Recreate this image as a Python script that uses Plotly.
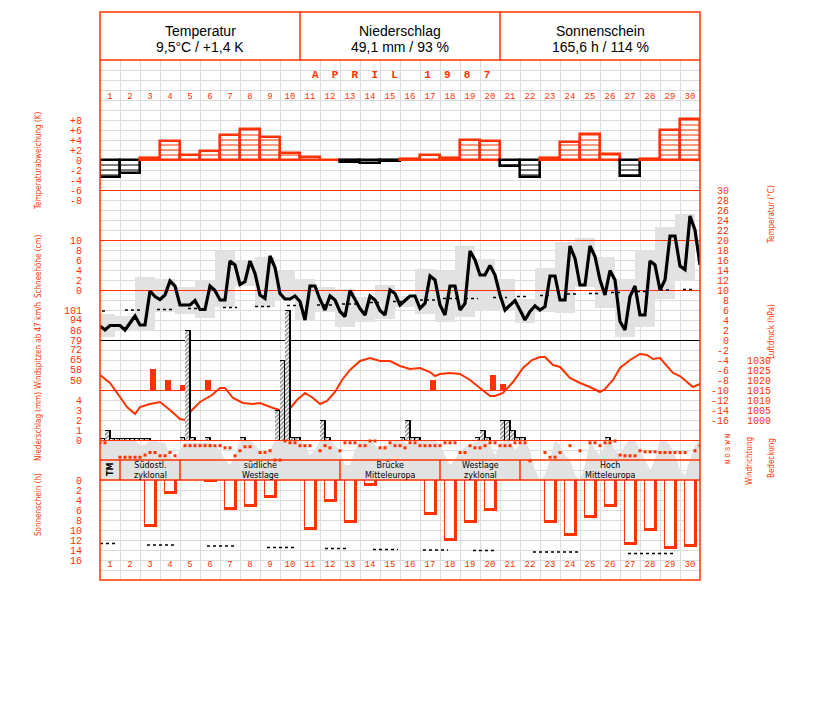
import plotly.graph_objects as go

# ---------------- data ----------------
days = list(range(1, 31))
day_labels = [str(d) for d in days]

summary_titles = ["Temperatur", "Niederschlag", "Sonnenschein"]
summary_values = ["9,5°C / +1,4 K", "49,1 mm / 93 %", "165,6 h / 114 %"]
month_title = "APRIL 1987"

# daily temperature deviation (K)
temp_dev_k = [-3.3, -2.5, 0.5, 3.8, 1.0, 1.9, 5.0, 6.2, 4.6, 1.5, 0.6, 0.1, -0.3, -0.5, -0.1,
              0.2, 1.1, 0.5, 4.1, 3.8, -1.2, -3.3, 0.5, 3.6, 5.3, 1.3, -3.2, 0.3, 6.1, 8.2]
temp_dev_ticks = [8, 6, 4, 2, 0, -2, -4, -6, -8]
temp_dev_ticktext = ["+8", "+6", "+4", "+2", "0", "-2", "-4", "-6", "-8"]

# 6-hourly air temperature (°C), starting 1 April 00 h
temp_6h_c = [2.8, 2.0, 2.9, 2.9, 2.9, 2.0, 3.4, 4.8, 3.0, 3.0,
             9.8, 8.7, 8.1, 9.0, 11.8, 10.8, 7.0, 7.0, 7.0, 7.9,
             6.1, 6.1, 10.8, 9.9, 8.0, 8.0, 15.8, 15.0, 11.1, 11.7,
             15.8, 13.3, 9.0, 8.3, 16.8, 14.5, 9.3, 8.2, 8.2, 8.8,
             7.7, 4.0, 10.8, 10.8, 8.1, 6.0, 8.8, 8.0, 5.7, 4.7,
             9.9, 8.1,
             6.3, 5.0, 8.8, 8.0, 5.9, 5.0, 10.0, 9.3, 7.0, 7.9,
             8.8, 8.8, 6.3, 7.3, 12.8, 12.0, 7.0, 5.0, 10.8, 10.8,
             6.0, 7.3, 17.8, 16.0, 13.0, 13.0, 14.9, 13.0, 9.0, 6.0,
             7.0, 7.9, 6.0, 4.0, 5.7, 6.8, 6.0, 6.7, 12.8, 12.8,
             8.0, 8.0, 18.8, 16.3, 11.0, 11.0, 18.8, 16.7, 12.0, 9.0,
             13.9, 12.0, 3.7, 2.0, 8.7, 10.8, 5.0, 5.0, 15.8, 15.0,
             10.0, 12.0, 20.8, 20.8, 14.8, 14.1, 24.8, 22.0, 15.0]
# daily maximum / minimum temperature (°C)
temp_max_c = [5.3, 5.0, 12.8, 12.3, 10.8, 12.2, 18.0, 16.2, 16.7, 14.0, 12.3, 10.7, 10.3, 8.7, 11.2,
              9.0, 14.3, 14.0, 19.0, 16.3, 12.3, 8.3, 14.5, 19.7, 20.5, 16.8, 12.3, 18.1, 22.7, 25.3]
temp_min_c = [0.8, 2.0, 2.0, 5.7, 5.3, 4.5, 6.7, 11.0, 6.8, 8.0, 4.0, 5.7, 2.7, 3.7, 4.3,
              6.7, 5.3, 3.7, 4.8, 6.0, 6.0, 3.5, 5.7, 5.5, 10.7, 6.5, 0.7, 2.7, 8.3, 12.0]
# long-term mean temperature (dotted segments)
temp_norm_from = [0.6, 1.75, 3.35, 4.9, 6.65, 8.25, 9.85, 11.35, 12.6, 14.0, 15.15, 16.5, 17.65,
                  18.75, 20.15, 21.35, 22.5, 23.85, 24.95, 26.05, 27.35, 28.5, 29.65]
temp_norm_to = [0.9, 2.5, 4.1, 5.35, 7.35, 9.0, 10.5, 12.1, 13.35, 14.5, 15.75, 17.35, 18.35,
                19.4, 20.85, 21.9, 23.1, 24.35, 25.5, 26.6, 27.85, 29.0, 30.2]
temp_norm_c = [5.8, 6.0, 6.1, 6.3, 6.5, 6.7, 6.9, 7.0, 7.2, 7.5, 7.7, 8.0, 8.3,
               8.3, 8.5, 8.7, 8.9, 9.2, 9.3, 9.5, 9.7, 10.0, 10.1]
temp_ticks = list(range(-16, 31, 2))

snow_ticks = [0, 2, 4, 6, 8, 10]

# wind gusts above 47 km/h
gust_day = [3.15, 3.9, 4.65, 5.9, 17.15, 20.15, 20.65]
gust_kmh = [58, 50, 46, 50, 50, 54, 47]
gust_ticks = [50, 58, 65, 72, 79, 86, 94, 101]

# air pressure (hPa)
pressure_day = [0.5, 1.0, 1.5, 1.85, 2.25, 2.5, 3.0, 3.5, 4.0, 4.5, 4.75, 5.1, 5.5, 5.75, 6.1,
                6.5, 6.75, 7.15, 7.65, 8.15, 8.5, 9.15, 9.5, 9.85, 10.35, 10.75, 11.15, 11.5,
                11.85, 12.25, 12.6, 13.0, 13.5, 14.0, 14.5, 15.0, 15.5, 16.0, 16.5, 17.0, 17.25,
                17.5, 18.0, 18.5, 19.0, 19.5, 20.0, 20.25, 20.65, 21.15, 21.65, 22.1, 22.5,
                22.75, 23.15, 23.5, 24.0, 24.5, 25.0, 25.5, 25.75, 26.15, 26.5, 27.0, 27.5,
                27.85, 28.15, 28.5, 29.15, 29.5, 30.15, 30.5]
pressure_hpa = [1022.5, 1018.5, 1011.5, 1006.5, 1003, 1006.5, 1008, 1009, 1005, 1000.5, 1000,
                1005, 1009, 1010.5, 1012.5, 1016, 1016, 1011, 1008.5, 1008, 1008.5, 1006, 1005,
                1004, 1010, 1013.5, 1011, 1008, 1009.5, 1014, 1020, 1025, 1029.5, 1031, 1029.5,
                1029.5, 1027, 1025.5, 1026, 1024, 1022, 1023, 1023.5, 1023, 1020, 1016, 1012,
                1012, 1013.5, 1019, 1026, 1030, 1031.5, 1031.5, 1027.5, 1026.5, 1021, 1018.5,
                1016.5, 1014, 1015.5, 1020, 1026, 1030, 1033, 1032.5, 1030.5, 1031, 1023.5,
                1022, 1016.5, 1018]
pressure_ticks = [1000, 1005, 1010, 1015, 1020, 1025, 1030]

# precipitation per quarter of a day (mm)
precip_day = [1, 1, 1, 1, 2, 2, 2, 2, 3, 3, 5, 5, 5, 6, 8, 9, 10, 10, 10, 10, 12, 12,
              16, 16, 16, 16, 19, 20, 20, 21, 21, 21, 21, 22, 26]
precip_quarter = [1, 2, 3, 4, 1, 2, 3, 4, 1, 2, 1, 2, 3, 2, 1, 4, 1, 2, 3, 4, 1, 2,
                  1, 2, 3, 4, 4, 1, 2, 1, 2, 3, 4, 1, 2]
precip_mm = [0.2, 1.0, 0.2, 0.2, 0.2, 0.2, 0.2, 0.2, 0.2, 0.2, 0.3, 11.0, 0.3, 0.3, 0.3, 3.0,
             8.0, 13.0, 0.3, 0.3, 2.0, 0.3, 0.3, 2.0, 0.3, 0.3, 0.3, 1.0, 0.3, 2.0, 2.0, 1.0,
             0.3, 0.3, 0.3]
precip_ticks = [0, 1, 2, 3, 4]

# 6-hourly wind direction (degrees) and cloud cover (octas)
wind_dir_deg = [280, 280, None, None, 80, 80, 80, 80, 80, 110,
                145, 145, 100, 100, 145, 100, None, 240, 240, 240,
                240, 240, 240, 240, 240, 210, 210, 100, 170, 225,
                225, None, 145, 145, 170, 40, 40, 305, 280, 280,
                240, 240, 240, None, 170, 240, 210, None, 170, 280,
                280, 280, 240, 240, 305, 305, 210, 210, 280, 240,
                240, 210, 280, 280, 240, 240, 240, 240, 240, 280,
                280, 280, 145, 145, 240, 210, 210, 240, 280, 280,
                240, 240, 240, 280, 280, 280, 30, None, None, 145,
                80, 80, 145, None, 240, None, 170, None, 280, 280,
                240, 280, 280, 305, 110, 100, 100, 100, 170, 155,
                155, 155, 145, 145, 145, 145, 145, 145, None, 170,
                240]
wind_ticks = [0, 90, 180, 270, 360]
wind_ticktext = ["N", "O", "S", "W", "N"]
cloud_octas = [8, 8, 8, 8, 8, 8, 8, 8, 7, 7, 8, 8, 7.5, 7.5, 5, 4, 6, 7.5, 7.5, 7.5,
               7.5, 7.5, 7.5, 7, 6, 4, 3, 5, 8, 8, 8, 7, 6, 5, 6, 8, 8, 8, 8, 8,
               8, 7, 5, 6, 8, 8, 8, 7, 6, 3, 3, 6, 8, 8, 8, 7, 6, 7, 7, 8,
               8, 7.5, 7, 7.5, 8, 8, 8, 8, 7, 5, 3, 4, 6, 6.5, 7, 7.5, 8, 8, 7, 5,
               7, 8, 8, 6, 7, 8, 6, 2, 0, 1, 4, 8, 7, 5, 4, 1, 0, 3, 8, 6,
               5, 7, 8, 6, 5, 7, 8, 8, 6, 4, 2, 4, 8, 8, 7, 5, 2, 1, 4, 7, 8]

# weather types (Großwetterlagen)
wx_start = [1, 2, 5, 13, 18, 22]
wx_end = [1, 4, 12, 17, 21, 30]
wx_line1 = ["TM", "Südostl.", "südliche", "Brücke", "Westlage", "Hoch"]
wx_line2 = ["", "zyklonal", "Westlage", "Mitteleuropa", "zyklonal", "Mitteleuropa"]

# sunshine (h) and astronomically possible maximum (dotted)
sun_h = [0, 0, 9.3, 2.7, 0, 0.3, 5.9, 5.3, 3.5, 0, 9.9, 4.3, 8.5, 1.2, 0,
         0, 7.0, 12.1, 8.5, 6.1, 0, 0, 8.5, 11.1, 7.5, 5.3, 13.0, 10.1, 13.7, 13.3]
sun_max_from = [0.5, 2.85, 5.85, 8.85, 11.75, 14.15, 16.65, 19.15, 22.15, 26.9]
sun_max_to = [1.25, 4.35, 7.35, 10.35, 12.9, 15.4, 17.9, 20.3, 24.5, 29.3]
sun_max_h = [12.7, 13.0, 13.2, 13.5, 13.7, 13.9, 14.0, 14.1, 14.4, 14.7]
sun_ticks = [0, 2, 4, 6, 8, 10, 12, 14, 16]

# ---------------- styling / layout helpers ----------------
OR = "#ff3300"
GRID = "#dcdcdc"
BOX = "#e2e2e2"
CLOUD = "#e2e2e2"
MONO = "Liberation Mono, DejaVu Sans Mono, monospace"
SANS = "Liberation Sans, Arial, sans-serif"
COND = "DejaVu Sans Condensed, DejaVu Sans, sans-serif"
NB = "\u00a0"

W, H, OFF = 811, 686, 8          # figure size; page has an 8 px body margin
PL, PR, PT, PB = 100, 700, 12, 580   # plot frame in page pixels


def fx(x):
    return (x - PL) / (PR - PL)


def fy(y):
    return (PB - y) / (PB - PT)


def dom(top, bottom):
    return [max(0.0, fy(bottom)), min(1.0, fy(top))]


tickfont = dict(family=MONO, size=10, color=OR)


def yax(top, bottom, rng, **kw):
    d = dict(domain=dom(top, bottom), range=rng, anchor="x2", showgrid=False,
             zeroline=False, showline=False, ticks="", showticklabels=False,
             fixedrange=True, automargin=False)
    d.update(kw)
    return d


def labelled(vals, text, side, standoff, font=None, **kw):
    d = dict(showticklabels=True, tickmode="array", tickvals=vals, ticktext=text,
             side=side, ticklabelstandoff=standoff, tickfont=font or tickfont)
    d.update(kw)
    return d


fig = go.Figure()

# --- base grid subplot: day numbers
for yrow in (97, 565):
    fig.add_trace(go.Scatter(x=days, y=[yrow] * 30, text=day_labels, mode="text",
                             textfont=dict(family=MONO, size=9, color=OR),
                             xaxis="x", yaxis="y", hoverinfo="skip"))

q6 = [0.5 + i / 4 for i in range(121)]

# --- cloud cover (y2)
fig.add_trace(go.Scatter(x=q6, y=cloud_octas, mode="lines", fill="tozeroy",
                         line=dict(width=0, color=CLOUD), fillcolor=CLOUD,
                         xaxis="x2", yaxis="y2", hoverinfo="skip"))

# --- temperature deviation (y3)
pos_hx, pos_hy, neg_hx, neg_hy = [], [], [], []
for d, v in zip(days, temp_dev_k):
    n = int(-(-abs(v) // 1)) - 1
    for k in range(1, n + 1):
        if v > 0:
            pos_hx += [d - 0.5, d + 0.5, None]
            pos_hy += [k, k, None]
        else:
            neg_hx += [d - 0.5, d + 0.5, None]
            neg_hy += [-k, -k, None]
fig.add_trace(go.Scatter(x=pos_hx, y=pos_hy, mode="lines", line=dict(color=OR, width=1),
                         xaxis="x2", yaxis="y3", hoverinfo="skip"))
fig.add_trace(go.Scatter(x=neg_hx, y=neg_hy, mode="lines", line=dict(color="black", width=1),
                         xaxis="x2", yaxis="y3", hoverinfo="skip"))
fig.add_trace(go.Bar(x=days, y=temp_dev_k, width=1,
                     marker=dict(color="rgba(0,0,0,0)",
                                 line=dict(color=[OR if v > 0 else "black" for v in temp_dev_k],
                                           width=2.6)),
                     xaxis="x2", yaxis="y3", hoverinfo="skip"))

# --- daily max/min boxes (y4)
fig.add_trace(go.Bar(x=days, base=temp_min_c,
                     y=[a - b for a, b in zip(temp_max_c, temp_min_c)],
                     offset=-0.75, width=1, marker=dict(color=BOX, line=dict(width=0)),
                     xaxis="x2", yaxis="y4", hoverinfo="skip"))

# --- y5 only carries the 10 °C lines (empty trace keeps the subplot alive)
fig.add_trace(go.Scatter(x=[], y=[], xaxis="x2", yaxis="y5", hoverinfo="skip"))

# --- temperature curve + long-term mean (y6)
nx, ny = [], []
for a, b, v in zip(temp_norm_from, temp_norm_to, temp_norm_c):
    nx += [a, b, None]
    ny += [v, v, None]
fig.add_trace(go.Scatter(x=nx, y=ny, mode="lines", line=dict(color="black", width=1.3, dash="dot"),
                         xaxis="x2", yaxis="y6", hoverinfo="skip"))
fig.add_trace(go.Scatter(x=q6, y=temp_6h_c, mode="lines", line=dict(color="black", width=3.2),
                         xaxis="x2", yaxis="y6", hoverinfo="skip"))

# --- snow depth axis (no snow this month)
fig.add_trace(go.Scatter(x=[], y=[], xaxis="x2", yaxis="y7", hoverinfo="skip"))

# --- gusts (y8)
fig.add_trace(go.Bar(x=gust_day, y=gust_kmh, width=0.3, marker=dict(color=OR, line=dict(width=0)),
                     xaxis="x2", yaxis="y8", hoverinfo="skip"))

# --- pressure (y9)
fig.add_trace(go.Scatter(x=pressure_day, y=pressure_hpa, mode="lines",
                         line=dict(color=OR, width=2),
                         xaxis="x2", yaxis="y9", hoverinfo="skip"))

# --- precipitation (y10)
qstart = [d - 0.5 + (q - 1) / 4 for d, q in zip(precip_day, precip_quarter)]
fig.add_trace(go.Bar(x=qstart, y=precip_mm, offset=0, width=0.3,
                     marker=dict(color="black", line=dict(width=0)),
                     xaxis="x2", yaxis="y10", hoverinfo="skip"))
fig.add_trace(go.Bar(x=qstart, y=[max(v - 0.12, 0) for v in precip_mm], offset=0, width=0.2,
                     marker=dict(color="white", line=dict(width=0),
                                 pattern=dict(shape="/", fgcolor="black", bgcolor="white",
                                              size=3, solidity=0.45)),
                     xaxis="x2", yaxis="y10", hoverinfo="skip"))

# --- wind direction (y11)
fig.add_trace(go.Scatter(x=q6, y=wind_dir_deg, mode="markers",
                         marker=dict(symbol="square", size=3, color=OR, line=dict(width=0)),
                         xaxis="x2", yaxis="y11", hoverinfo="skip"))

# --- sunshine (y12)
fig.add_trace(go.Bar(x=days, y=sun_h, offset=-0.3, width=0.65,
                     marker=dict(color=OR, line=dict(width=0)),
                     xaxis="x2", yaxis="y12", hoverinfo="skip"))
fig.add_trace(go.Bar(x=days, y=[max(v - 0.6, 0) for v in sun_h], offset=-0.25, width=0.45,
                     marker=dict(color="white", line=dict(width=0)),
                     xaxis="x2", yaxis="y12", hoverinfo="skip"))
sx, sy = [], []
for a, b, v in zip(sun_max_from, sun_max_to, sun_max_h):
    sx += [a, b, None]
    sy += [v, v, None]
fig.add_trace(go.Scatter(x=sx, y=sy, mode="lines", line=dict(color="black", width=1.3, dash="dot"),
                         xaxis="x2", yaxis="y12", hoverinfo="skip"))

# ---------------- axes ----------------
temp_text = [str(v).rjust(3, NB) for v in temp_ticks]
layout_axes = dict(
    xaxis=dict(domain=[0, 1], range=[0.5, 30.5], anchor="y", showgrid=True, gridcolor=GRID,
               gridwidth=1, tick0=0.5, dtick=1, showticklabels=False, ticks="",
               zeroline=False, showline=False, fixedrange=True, automargin=False),
    yaxis=dict(domain=dom(60, 580), range=[580, 60], anchor="x", showgrid=True, gridcolor=GRID,
               gridwidth=1, tick0=0, dtick=10, showticklabels=False, ticks="",
               zeroline=False, showline=False, fixedrange=True, automargin=False),
    xaxis2=dict(domain=[0, 1], range=[0.5, 30.5], anchor="y2", visible=False, fixedrange=True,
                automargin=False),
    yaxis2=yax(440, 480, [0, 8]),
    yaxis3=yax(105, 205, [-9, 11], **labelled(temp_dev_ticks, temp_dev_ticktext, "left", 17)),
    yaxis4=yax(187.5, 442.5, [-20.5, 30.5]),
    yaxis5=yax(187.5, 442.5, [-20.5, 30.5], showgrid=True, gridcolor=OR, gridwidth=1,
               tick0=0, dtick=10, zeroline=True, zerolinecolor="black", zerolinewidth=1),
    yaxis6=yax(187.5, 442.5, [-20.5, 30.5], **labelled(temp_ticks, temp_text, "right", 10)),
    yaxis7=yax(235, 295, [-1, 11], **labelled(snow_ticks, [str(v) for v in snow_ticks], "left", 17)),
    yaxis8=yax(300, 390, [42.71, 108.29], **labelled(gust_ticks, [str(v) for v in gust_ticks], "left", 17)),
    yaxis9=yax(300, 440, [990, 1060], **labelled(pressure_ticks, [str(v) for v in pressure_ticks], "right", 46)),
    yaxis10=yax(300, 440, [0, 14], **labelled(precip_ticks, [str(v) for v in precip_ticks], "left", 17)),
    yaxis11=yax(437, 463, [0, 360], **labelled(wind_ticks, wind_ticktext, "right", 22,
                                               font=dict(family=MONO, size=7, color=OR),
                                               tickangle=-90)),
    yaxis12=yax(480, 580, [20, 0], **labelled(sun_ticks, [str(v) for v in sun_ticks], "left", 17)),
)

# ---------------- shapes ----------------
line_or = dict(color=OR, width=1.5)
shapes = [
    dict(type="rect", xref="paper", yref="paper", x0=0, x1=1, y0=0, y1=1, line=line_or, layer="above"),
    dict(type="line", xref="paper", yref="paper", x0=0, x1=1, y0=fy(60), y1=fy(60), line=line_or, layer="above"),
    dict(type="line", xref="paper", yref="paper", x0=0, x1=1, y0=fy(460), y1=fy(460), line=line_or, layer="above"),
    dict(type="line", xref="paper", yref="paper", x0=0, x1=1, y0=fy(480), y1=fy(480), line=line_or, layer="above"),
    dict(type="line", xref="paper", yref="paper", x0=fx(300), x1=fx(300), y0=fy(60), y1=1, line=line_or, layer="above"),
    dict(type="line", xref="paper", yref="paper", x0=fx(500), x1=fx(500), y0=fy(60), y1=1, line=line_or, layer="above"),
]
for s in wx_start[1:]:
    shapes.append(dict(type="line", xref="x2", yref="paper", x0=s - 0.5, x1=s - 0.5,
                       y0=fy(480), y1=fy(460), line=line_or, layer="above"))

# ---------------- annotations ----------------
ann = []
for i, (t, v) in enumerate(zip(summary_titles, summary_values)):
    cx = fx(200 + 200 * i)
    ann.append(dict(x=cx, y=fy(31), text=t, font=dict(family=SANS, size=14, color="black")))
    ann.append(dict(x=cx, y=fy(47), text=v, font=dict(family=SANS, size=14, color="black")))

month_word, year_word = month_title.split(" ")
spaced = (NB * 2).join(month_word) + NB * 4 + (NB * 2).join(year_word)
ann.append(dict(x=fx(401), y=fy(75), text="<b>" + spaced + "</b>",
                font=dict(family=MONO, size=11, color=OR)))

left_titles = [("Temperaturabweichung (K)", 161), ("Schneehöhe (cm)", 266),
               ("Windspitzen ab 47 km/h", 346), ("Niederschlag (mm)", 427),
               ("Sonnenschein (h)", 505)]
for t, yc in left_titles:
    ann.append(dict(x=fx(38), y=fy(yc), text=t, textangle=-90,
                    font=dict(family=COND, size=8, color=OR)))
right_titles = [("Temperatur (°C)", 771, 215), ("Luftdruck (hPa)", 771, 332),
                ("Windrichtung", 749, 461), ("Bedeckung", 771, 458)]
for t, xc, yc in right_titles:
    ann.append(dict(x=fx(xc), y=fy(yc), text=t, textangle=-90,
                    font=dict(family=COND, size=8, color=OR)))

for s, e, l1, l2 in zip(wx_start, wx_end, wx_line1, wx_line2):
    cx = (s + e) / 2
    if l2:
        ann.append(dict(x=cx, xref="x2", y=fy(470.3), text=l1 + "<br>" + l2,
                        font=dict(family="DejaVu Sans", size=8, color="black")))
    else:
        ann.append(dict(x=cx, xref="x2", y=fy(470), text="<b>" + l1 + "</b>", textangle=-90,
                        font=dict(family="DejaVu Sans", size=8, color="black")))

for a in ann:
    a.setdefault("xref", "paper")
    a["yref"] = "paper"
    a["showarrow"] = False
    a["xanchor"] = "center"
    a["yanchor"] = "middle"

fig.update_layout(
    width=W, height=H,
    margin=dict(l=PL - OFF, r=W - (PR - OFF), t=PT - OFF, b=H - (PB - OFF), pad=0,
                autoexpand=False),
    paper_bgcolor="white", plot_bgcolor="rgba(0,0,0,0)",
    showlegend=False, barmode="overlay", bargap=0,
    shapes=shapes, annotations=ann,
    **layout_axes,
)

fig.write_html("out.html")
